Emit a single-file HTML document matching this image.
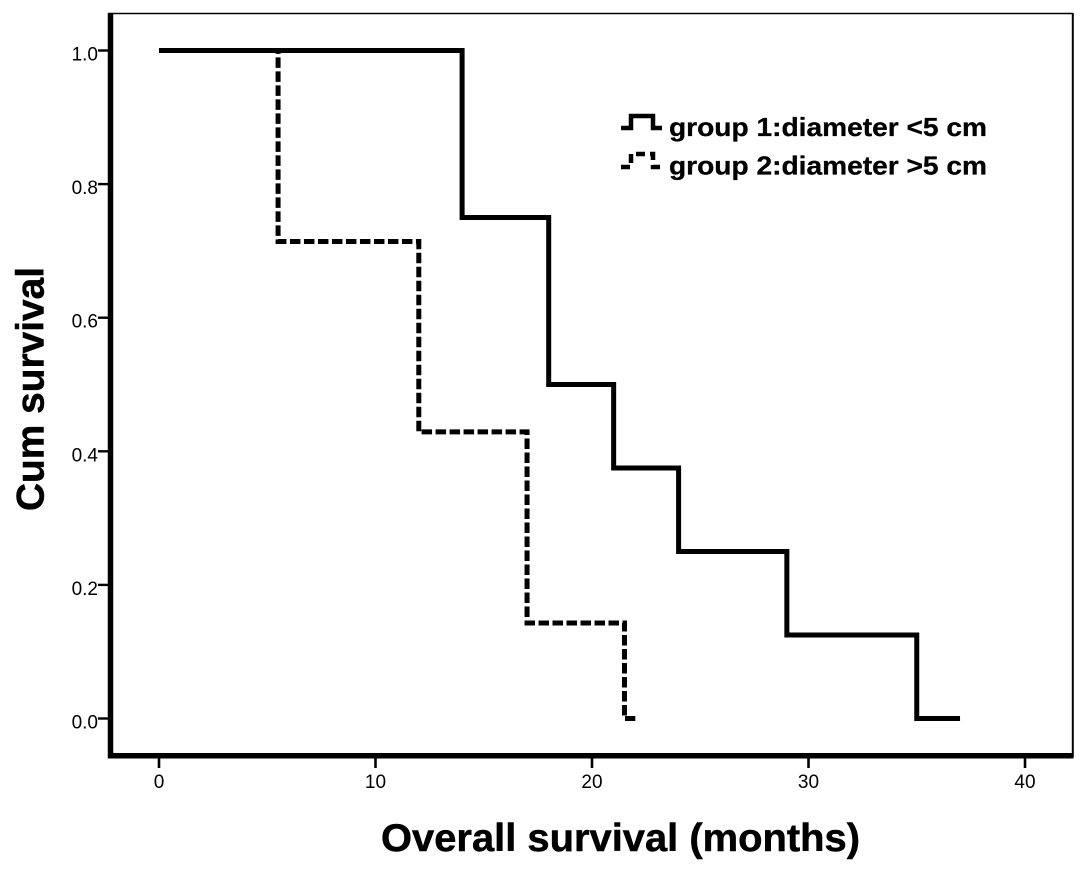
<!DOCTYPE html>
<html>
<head>
<meta charset="utf-8">
<title>Overall survival chart</title>
<style>
html,body{margin:0;padding:0;background:#fff;}
svg{display:block;}
text{font-family:"Liberation Sans",sans-serif;fill:#000;}
</style>
</head>
<body>
<svg id="chart" xmlns="http://www.w3.org/2000/svg" width="1087" height="872" viewBox="0 0 1087 872">
  <rect x="0" y="0" width="1087" height="872" fill="#fff"/>
  <line x1="108" y1="13.5" x2="1073" y2="13.5" stroke="#000" stroke-width="1.6"/>
  <line x1="1072.8" y1="13" x2="1072.8" y2="757" stroke="#000" stroke-width="2"/>
  <g id="ticks"></g>
  <g id="series"></g>
  <line x1="110.5" y1="13" x2="110.5" y2="758.5" stroke="#000" stroke-width="5.5"/>
  <line x1="108" y1="755.7" x2="1073.5" y2="755.7" stroke="#000" stroke-width="5.5"/>
  <text x="381" y="851" font-size="39" font-weight="700" stroke="#000" stroke-width="0.5" textLength="479" lengthAdjust="spacingAndGlyphs">Overall survival (months)</text>
  <text transform="translate(43.5,511) rotate(-90)" font-size="39" font-weight="700" stroke="#000" stroke-width="0.5" textLength="244" lengthAdjust="spacingAndGlyphs">Cum survival</text>
  <g>
    <path d="M621 128H631V116H653V128H662" fill="none" stroke="#000" stroke-width="4.5"/>
    <text x="669" y="136" font-size="26" font-weight="700" stroke="#000" stroke-width="0.3" textLength="318" lengthAdjust="spacingAndGlyphs">group 1:diameter &lt;5 cm</text>
    <path d="M621 167H631V154H653V167H660" fill="none" stroke="#000" stroke-width="4.5" stroke-dasharray="9 5"/>
    <text x="669" y="174.5" font-size="26" font-weight="700" stroke="#000" stroke-width="0.3" textLength="318" lengthAdjust="spacingAndGlyphs">group 2:diameter &gt;5 cm</text>
  </g>
</svg>
<script>
const xTickLabels = [0, 10, 20, 30, 40];
const yTickLabels = [0.0, 0.2, 0.4, 0.6, 0.8, 1.0];
const group1Months = [0, 14, 18, 21, 24, 29, 35, 37];
const group1Survival = [1.0, 0.75, 0.5, 0.375, 0.25, 0.125, 0.0, 0.0];
const group2Months = [0, 5.5, 12, 17, 21.5, 22];
const group2Survival = [1.0, 0.714, 0.429, 0.143, 0.0, 0.0];

const SVG_NS = 'http://www.w3.org/2000/svg';
function xScale(v) { return 159 + v * 21.65; }
function yScale(v) { return 718.5 - v * 668; }

function stepPath(months, survival) {
  let d = 'M' + xScale(months[0]) + ' ' + yScale(survival[0]);
  for (let i = 1; i < months.length; i++) {
    d += 'H' + xScale(months[i]);
    if (i < months.length - 1 || survival[i] !== survival[i - 1]) {
      d += 'V' + yScale(survival[i]);
    }
  }
  return d;
}

const ticks = document.getElementById('ticks');
const series = document.getElementById('series');

xTickLabels.forEach(function (v) {
  const tick = document.createElementNS(SVG_NS, 'line');
  
  
  tick.setAttribute('x1', xScale(v));
  tick.setAttribute('x2', xScale(v));
  tick.setAttribute('y1', 757);
  tick.setAttribute('y2', 768);
  tick.setAttribute('stroke', '#000');
  tick.setAttribute('stroke-width', 2.6);
  ticks.appendChild(tick);
  const label = document.createElementNS(SVG_NS, 'text');
  
  
  label.setAttribute('x', xScale(v));
  label.setAttribute('y', 788);
  label.setAttribute('font-size', 19);
  label.setAttribute('text-anchor', 'middle');
  label.textContent = String(v);
  ticks.appendChild(label);
});

yTickLabels.forEach(function (v) {
  const tick = document.createElementNS(SVG_NS, 'line');
  
  
  tick.setAttribute('x1', 98);
  tick.setAttribute('x2', 109);
  tick.setAttribute('y1', yScale(v));
  tick.setAttribute('y2', yScale(v));
  tick.setAttribute('stroke', '#000');
  tick.setAttribute('stroke-width', 2.4);
  ticks.appendChild(tick);
  const label = document.createElementNS(SVG_NS, 'text');
  
  
  label.setAttribute('x', 98);
  label.setAttribute('y', yScale(v) + 10);
  label.setAttribute('font-size', 19);
  label.setAttribute('text-anchor', 'end');
  label.textContent = v.toFixed(1);
  ticks.appendChild(label);
});

const curve1 = document.createElementNS(SVG_NS, 'path');


curve1.setAttribute('d', stepPath(group1Months, group1Survival));
curve1.setAttribute('fill', 'none');
curve1.setAttribute('stroke', '#000');
curve1.setAttribute('stroke-width', 5);
curve1.setAttribute('stroke-linejoin', 'miter');
series.appendChild(curve1);

const curve2 = document.createElementNS(SVG_NS, 'path');


curve2.setAttribute('d', stepPath(group2Months, group2Survival));
curve2.setAttribute('fill', 'none');
curve2.setAttribute('stroke', '#000');
curve2.setAttribute('stroke-width', 5);
curve2.setAttribute('stroke-dasharray', '10.5 3.5');
series.appendChild(curve2);
</script>
</body>
</html>
